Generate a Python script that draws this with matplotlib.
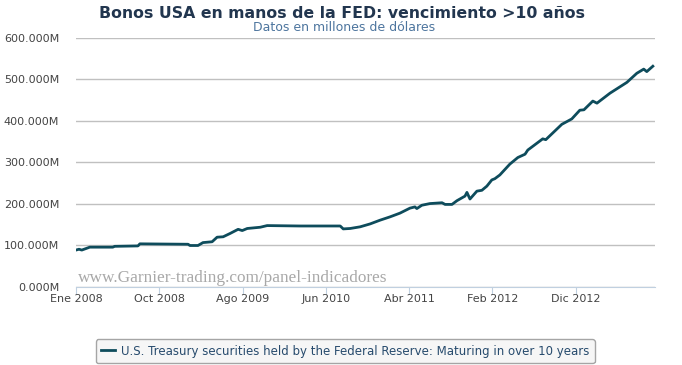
import matplotlib
matplotlib.use("Agg")
import matplotlib.pyplot as plt
import pandas as pd

# values (millions of dollars)
dates = ["2008-01-02", "2008-01-13", "2008-01-23", "2008-02-21", "2008-05-14", "2008-05-21",
         "2008-08-13", "2008-08-20", "2009-02-10", "2009-02-17", "2009-03-18", "2009-04-05",
         "2009-05-08", "2009-05-26", "2009-06-17", "2009-07-12", "2009-08-10", "2009-08-25",
         "2009-09-12", "2009-10-29", "2009-11-23", "2010-03-22", "2010-08-14", "2010-08-25",
         "2010-09-19", "2010-10-25", "2010-11-30", "2011-01-05", "2011-02-10", "2011-03-18",
         "2011-04-23", "2011-05-11", "2011-05-18", "2011-06-05", "2011-07-04", "2011-08-17",
         "2011-08-28", "2011-09-22", "2011-10-10", "2011-11-08", "2011-11-15", "2011-11-26",
         "2011-12-21", "2012-01-08", "2012-01-26", "2012-02-13", "2012-02-24", "2012-03-13",
         "2012-04-18", "2012-05-17", "2012-06-12", "2012-06-22", "2012-08-15", "2012-08-26",
         "2012-10-23", "2012-11-28", "2012-12-27", "2013-01-11", "2013-02-12", "2013-02-27",
         "2013-04-15", "2013-06-15", "2013-07-21", "2013-08-15", "2013-08-26", "2013-09-17"]
values = [89, 91, 89, 96, 96, 98,
          99, 104, 103, 100, 100, 107,
          109, 120, 121, 129, 139, 136,
          141, 144, 148, 147, 147, 140,
          141, 145, 152, 161, 169, 178,
          190, 193, 189, 197, 201, 203,
          199, 199, 208, 219, 228, 212,
          231, 233, 243, 258, 261, 270,
          296, 312, 320, 330, 357, 355,
          392, 405, 426, 427, 448, 443,
          467, 493, 515, 525, 519, 532]

tick_dates = ["2008-01-02", "2008-10-29", "2009-08-26", "2010-06-23", "2011-04-20", "2012-02-15", "2012-12-12"]
tick_labels = ["Ene 2008", "Oct 2008", "Ago 2009", "Jun 2010", "Abr 2011", "Feb 2012", "Dic 2012"]
y_ticks = [0, 100, 200, 300, 400, 500, 600]

x = pd.to_datetime(dates)

fig = plt.figure(figsize=(6.82, 3.65), dpi=100)
ax = fig.add_axes([0.1114, 0.2137, 0.8483, 0.6822])

ax.plot(x, values, color="#0e4c5c", lw=2, solid_joinstyle="round",
        label="U.S. Treasury securities held by the Federal Reserve: Maturing in over 10 years")

ax.set_ylim(0, 600)
ax.set_xlim(pd.Timestamp("2008-01-02"), pd.Timestamp("2013-09-23"))
ax.set_yticks(y_ticks)
ax.set_yticklabels([f"{v}.000M" for v in y_ticks])
ax.set_xticks(pd.to_datetime(tick_dates))
ax.set_xticklabels(tick_labels)

ax.grid(axis="y", color="#c0c0c0", lw=1)
ax.set_axisbelow(True)
for s in ["top", "right", "left"]:
    ax.spines[s].set_visible(False)
ax.spines["bottom"].set_color("#c0d0e0")
ax.tick_params(axis="y", length=0, labelsize=8, labelcolor="#444444", pad=12)
ax.tick_params(axis="x", length=5, color="#c0d0e0", labelsize=8, labelcolor="#444444", pad=0)

fig.text(0.502, 0.962, "Bonos USA en manos de la FED: vencimiento >10 años",
         ha="center", va="center", fontsize=11.3, fontweight="bold", color="#22364f")
fig.text(0.505, 0.926, "Datos en millones de dólares",
         ha="center", va="center", fontsize=9, color="#4d759e")

# watermark
ax.text(0.003, 0.004, "www.Garnier-trading.com/panel-indicadores", transform=ax.transAxes,
        family="Liberation Serif", fontsize=12.4, color="#a8a8a8", ha="left", va="bottom")

leg = fig.legend(loc="center", bbox_to_anchor=(0.506, 0.038), frameon=True, fontsize=8.5,
                 handlelength=1.2, handletextpad=0.5, fancybox=True, borderpad=0.45)
leg.get_frame().set_edgecolor("#909090")
leg.get_frame().set_facecolor("#f4f4f4")
for t in leg.get_texts():
    t.set_color("#274b6d")

fig.savefig("out.png", dpi=100)
